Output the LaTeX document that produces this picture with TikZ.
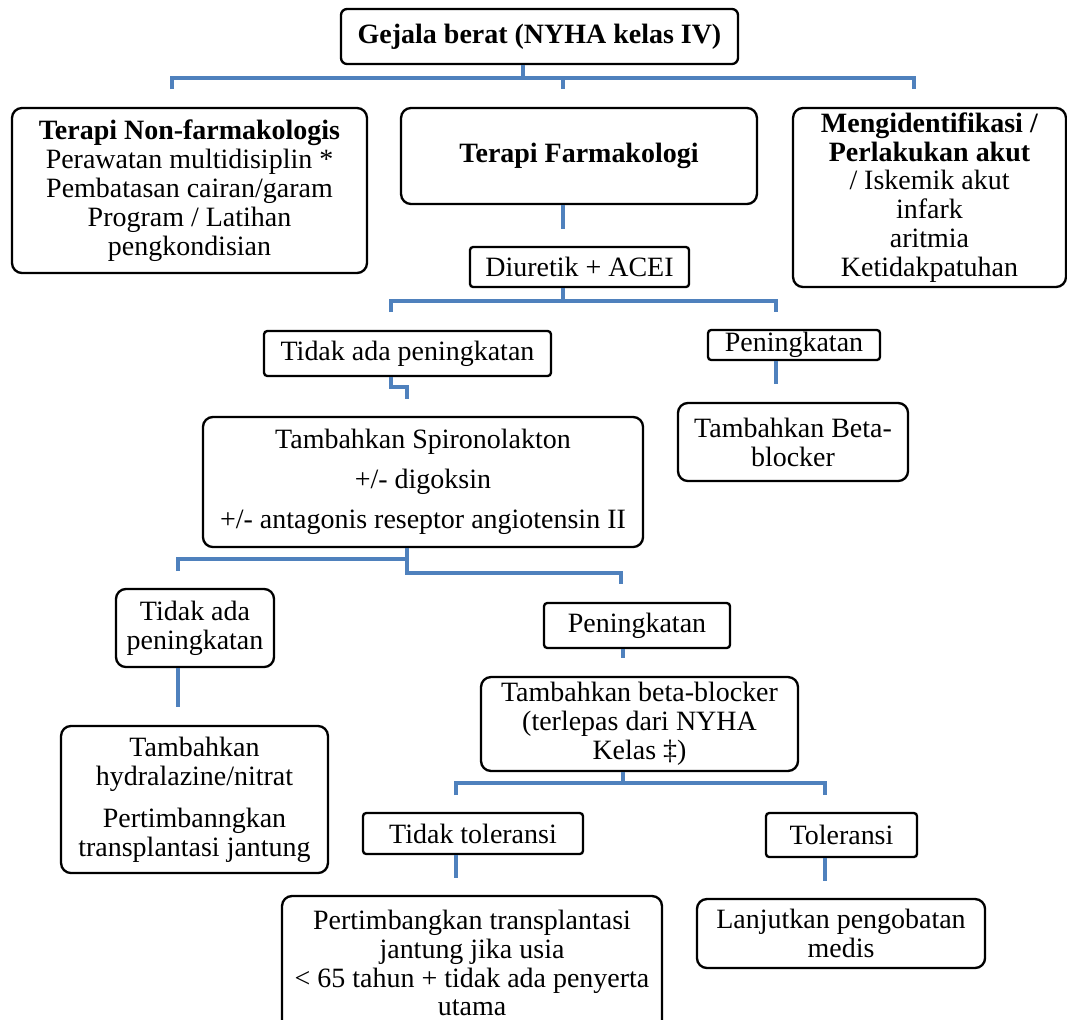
\documentclass[tikz,border=0pt]{standalone}
\usepackage{fontspec}
\setmainfont{Liberation Serif}
\definecolor{linkblue}{HTML}{4F81BD}
\begin{document}
\begin{tikzpicture}[x=0.429pt, y=-0.429pt, font=\fontsize{12}{12.4}\selectfont,
    box/.style={draw, line width=1pt, rounded corners=4.3pt, align=center, inner sep=0pt},
    tag/.style={draw, line width=1pt, rounded corners=1.4pt, align=center, inner sep=0pt},
    link/.style={draw=linkblue, line width=2pt}]
    \useasboundingbox (0,0) rectangle (1067,1019);
    \node[tag, rounded corners=2.6pt, minimum width=170.3pt, minimum height=23.6pt] (gejala) at (539.5,36.5) {\textbf{Gejala berat (NYHA kelas IV)}};
    \node[box, minimum width=152.3pt, minimum height=70.8pt] (nonfarm) at (189.5,190.5) {\textbf{Terapi Non-farmakologis}\\Perawatan multidisiplin *\\Pembatasan cairan/garam\\Program / Latihan\\pengkondisian};
    \node[box, minimum width=152.7pt, minimum height=41.2pt] (farm) at (579,156) {\textbf{Terapi Farmakologi}};
    \node[box, minimum width=117.1pt, minimum height=76.8pt] (ident) at (929.5,197.5) {\textbf{Mengidentifikasi /}\\\textbf{Perlakukan akut}\\/ Iskemik akut\\infark\\aritmia\\Ketidakpatuhan};
    \node[tag, minimum width=94pt, minimum height=17.2pt] (diur) at (579.5,267) {Diuretik + ACEI};
    \node[tag, minimum width=123.1pt, minimum height=19.3pt] (tidak1) at (407.5,353.5) {Tidak ada peningkatan};
    \node[tag, minimum width=73.8pt, minimum height=12.9pt] (ning1) at (794,345) {Peningkatan};
    \node[box, minimum width=98.7pt, minimum height=33.5pt] (betab1) at (793,442) {Tambahkan Beta-\\blocker};
    \node[box, minimum width=188.8pt, minimum height=55.8pt] (spiro) at (423,482) {Tambahkan Spironolakton\\[4.7pt]+/- digoksin\\[4.7pt]+/- antagonis reseptor angiotensin II};
    \node[box, minimum width=67.8pt, minimum height=33.5pt] (tidak2) at (195,628) {Tidak ada\\peningkatan};
    \node[box, minimum width=114.5pt, minimum height=63.1pt] (hydra) at (194.5,799.5) {Tambahkan\\hydralazine/nitrat\\[5.6pt]Pertimbanngkan\\transplantasi jantung};
    \node[tag, minimum width=79.8pt, minimum height=19.3pt] (ning2) at (637,625.5) {Peningkatan};
    \node[box, minimum width=136pt, minimum height=40.3pt] (betab2) at (639.5,724) {Tambahkan beta-blocker\\(terlepas dari NYHA\\Kelas ‡)};
    \node[tag, minimum width=94.4pt, minimum height=17.6pt] (tidaktol) at (473,833.5) {Tidak toleransi};
    \node[tag, minimum width=64.8pt, minimum height=18.9pt] (tol) at (841.5,835) {Toleransi};
    \node[box, minimum width=163pt, minimum height=57.5pt] (pertim) at (472,963) {Pertimbangkan transplantasi\\jantung jika usia\\< 65 tahun + tidak ada penyerta\\utama};
    \node[box, minimum width=123.6pt, minimum height=29.6pt] (lanjut) at (841,933.5) {Lanjutkan pengobatan\\medis};

    \coordinate (busA) at (523,78);
    \coordinate (dropA1) at (172,89);
    \coordinate (dropA2) at (563,89);
    \coordinate (dropA3) at (914,89);
    \draw[link] (gejala.south -| busA) -- (busA);
    \draw[link] (dropA1) |- (busA) -| (dropA3);
    \draw[link] (busA -| dropA2) -- (dropA2);

    \coordinate (farmEnd) at (563,229);
    \draw[link] (farm.south -| farmEnd) -- (farmEnd);

    \coordinate (busB) at (563,301);
    \coordinate (dropB1) at (391,312);
    \coordinate (dropB2) at (776,312);
    \draw[link] (diur.south -| busB) -- (busB);
    \draw[link] (dropB1) |- (busB) -| (dropB2);

    \coordinate (jogC) at (407,387);
    \coordinate (dropC) at (407,399);
    \draw[link] (tidak1.south -| dropB1) |- (jogC) -- (dropC);

    \coordinate (ning1End) at (776,384);
    \draw[link] (ning1.south -| ning1End) -- (ning1End);

    \coordinate (busD) at (407,559);
    \coordinate (busE) at (407,573);
    \coordinate (dropD1) at (178,571);
    \coordinate (dropD2) at (621,584);
    \draw[link] (spiro.south -| busD) -- (busE) -| (dropD2);
    \draw[link] (dropD1) |- (busD);

    \coordinate (tidak2End) at (178,707);
    \draw[link] (tidak2.south -| tidak2End) -- (tidak2End);

    \coordinate (ning2End) at (623,658);
    \draw[link] (ning2.south -| ning2End) -- (ning2End);

    \coordinate (busF) at (623,783);
    \coordinate (dropF1) at (456,795);
    \coordinate (dropF2) at (825,795);
    \draw[link] (betab2.south -| busF) -- (busF);
    \draw[link] (dropF1) |- (busF) -| (dropF2);

    \coordinate (tolEnd1) at (456,878);
    \coordinate (tolEnd2) at (825,881);
    \draw[link] (tidaktol.south -| tolEnd1) -- (tolEnd1);
    \draw[link] (tol.south -| tolEnd2) -- (tolEnd2);
\end{tikzpicture}
\end{document}
